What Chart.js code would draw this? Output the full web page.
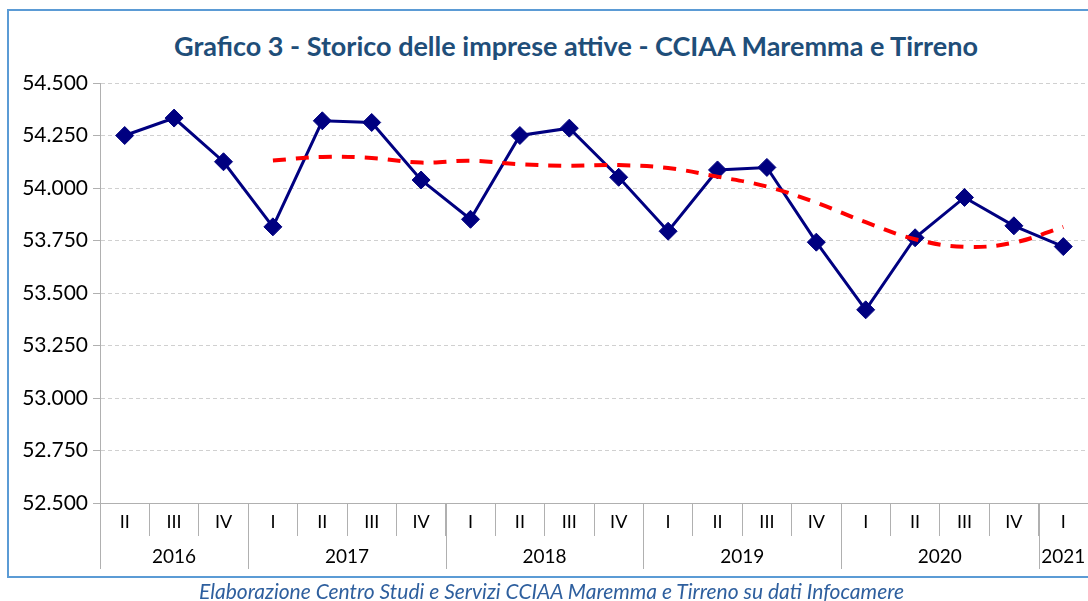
<!DOCTYPE html>
<html lang="it">
<head>
<meta charset="utf-8">
<script src="https://cdn.jsdelivr.net/npm/chart.js@4.4.1/dist/chart.umd.min.js"></script>
<style>
  html, body { margin: 0; padding: 0; overflow: hidden; }
  body { background: #fff; width: 1088px; height: 601px; position: relative; font-family: Lato, sans-serif; }
  #frame { position: absolute; left: 7px; top: 9px; width: 1081px; height: 569px; border: 2px solid #5b9bd5; border-right: none; box-sizing: border-box; }
  #chartBox { position: absolute; left: 0; top: 0; width: 1088px; height: 601px; }
  #storicoChart { display: block; }
  #title { position: absolute; left: 64px; width: 1024px; top: 30px; text-align: center; font-weight: bold; font-size: 27px; line-height: 32px; color: #1f4e79; white-space: nowrap; }
  #note { position: absolute; left: 0; width: 1088px; top: 580px; padding-left: 15px; box-sizing: border-box; text-align: center; font-style: italic; font-size: 21px; line-height: 21px; color: #2e5f9e; white-space: nowrap; }
</style>
</head>
<body>
<div id="frame"></div>
<div id="title">Grafico 3 - Storico delle imprese attive - CCIAA Maremma e Tirreno</div>
<div id="chartBox"><canvas id="storicoChart" width="1088" height="601"></canvas></div>
<div id="note">Elaborazione Centro Studi e Servizi CCIAA Maremma e Tirreno su dati Infocamere</div>
<script>
// trimestri e anni (asse x a due livelli)
var quarters = ["II", "III", "IV", "I", "II", "III", "IV", "I", "II", "III", "IV", "I", "II", "III", "IV", "I", "II", "III", "IV", "I"];
var years = ["2016", "2016", "2016", "2017", "2017", "2017", "2017", "2018", "2018", "2018", "2018",
  "2019", "2019", "2019", "2019", "2020", "2020", "2020", "2020", "2021"];

// imprese attive per trimestre
var imprese = [54250, 54333, 54125, 53815, 54320, 54312, 54038, 53851, 54250, 54285,
  54051, 53794, 54086, 54098, 53742, 53420, 53763, 53955, 53820, 53721];

// media mobile (linea tratteggiata rossa)
var mediaMobile = [null, null, null, 54131, 54148, 54143, 54121, 54130, 54113, 54106,
  54109, 54095, 54054, 54007, 53930, 53837, 53756, 53720, 53740, 53815];

var yMin = 52500;
var yMax = 54500;
var yStep = 250;

function formatIt(v) {
  var s = String(Math.round(v));
  return s.slice(0, -3) + "." + s.slice(-3);
}

// seconda riga dell'asse x: anni con separatori
var yearRow = {
  id: "yearRow",
  afterDraw: function (chart) {
    var x = chart.scales.x;
    var ctx = chart.ctx;
    var half = (x.getPixelForValue(1) - x.getPixelForValue(0)) / 2;
    ctx.save();
    ctx.strokeStyle = "#b0b0b0";
    ctx.lineWidth = 1;
    ctx.fillStyle = "#000";
    ctx.font = "19px Lato";
    ctx.textAlign = "center";
    ctx.textBaseline = "middle";
    var start = 0;
    for (var i = 1; i <= years.length; i++) {
      if (i === years.length || years[i] !== years[start]) {
        var left = x.getPixelForValue(start) - half;
        var right = x.getPixelForValue(i - 1) + half;
        var lx = Math.round(left) + 0.5;
        ctx.beginPath();
        ctx.moveTo(lx, x.top);
        ctx.lineTo(lx, x.bottom);
        ctx.stroke();
        ctx.fillText(years[start], (left + right) / 2, x.bottom - 12);
        start = i;
      }
    }
    ctx.restore();
  }
};

var ctx = document.getElementById("storicoChart").getContext("2d");

new Chart(ctx, {
  type: "line",
  data: {
    labels: quarters,
    datasets: [
      {
        label: "Media mobile",
        data: mediaMobile,
        order: 0,
        borderColor: "#ff0000",
        borderWidth: 4,
        borderDash: [13, 10],
        tension: 0.4,
        pointRadius: 0,
        fill: false,
      },
      {
        label: "Imprese attive",
        data: imprese,
        order: 1,
        borderColor: "#000080",
        borderWidth: 3,
        tension: 0,
        pointStyle: "rectRot",
        pointRadius: 9,
        pointBackgroundColor: "#000080",
        pointBorderColor: "#000080",
        pointBorderWidth: 1,
        fill: false,
      },
    ],
  },
  options: {
    responsive: false,
    animation: false,
    layout: {
      autoPadding: false,
      padding: { top: 83, bottom: 32, left: 0, right: 0 },
    },
    plugins: {
      legend: { display: false },
      title: { display: false },
      tooltip: { enabled: false },
    },
    scales: {
      x: {
        offset: true,
        grid: {
          offset: true,
          drawOnChartArea: false,
          drawTicks: true,
          tickLength: 33,
          color: "#b0b0b0",
          tickColor: "#b0b0b0",
        },
        border: { color: "#b0b0b0", width: 1 },
        ticks: {
          color: "#000",
          font: { family: "Lato", size: 18 },
          padding: -25,
          maxRotation: 0,
          autoSkip: false,
        },
        afterFit: function (scale) {
          scale.height = 66;
        },
      },
      y: {
        min: yMin,
        max: yMax,
        ticks: {
          stepSize: yStep,
          color: "#000",
          font: { family: "Lato", size: 21 },
          padding: 5,
          callback: function (value) {
            return formatIt(value);
          },
        },
        grid: {
          color: "#d0d0d0",
          tickColor: "#b0b0b0",
          tickLength: 7,
        },
        border: { color: "#b0b0b0", width: 1, dash: [4, 3] },
        afterFit: function (scale) {
          scale.width = 100;
        },
      },
    },
  },
  plugins: [yearRow],
});
</script>
</body>
</html>
